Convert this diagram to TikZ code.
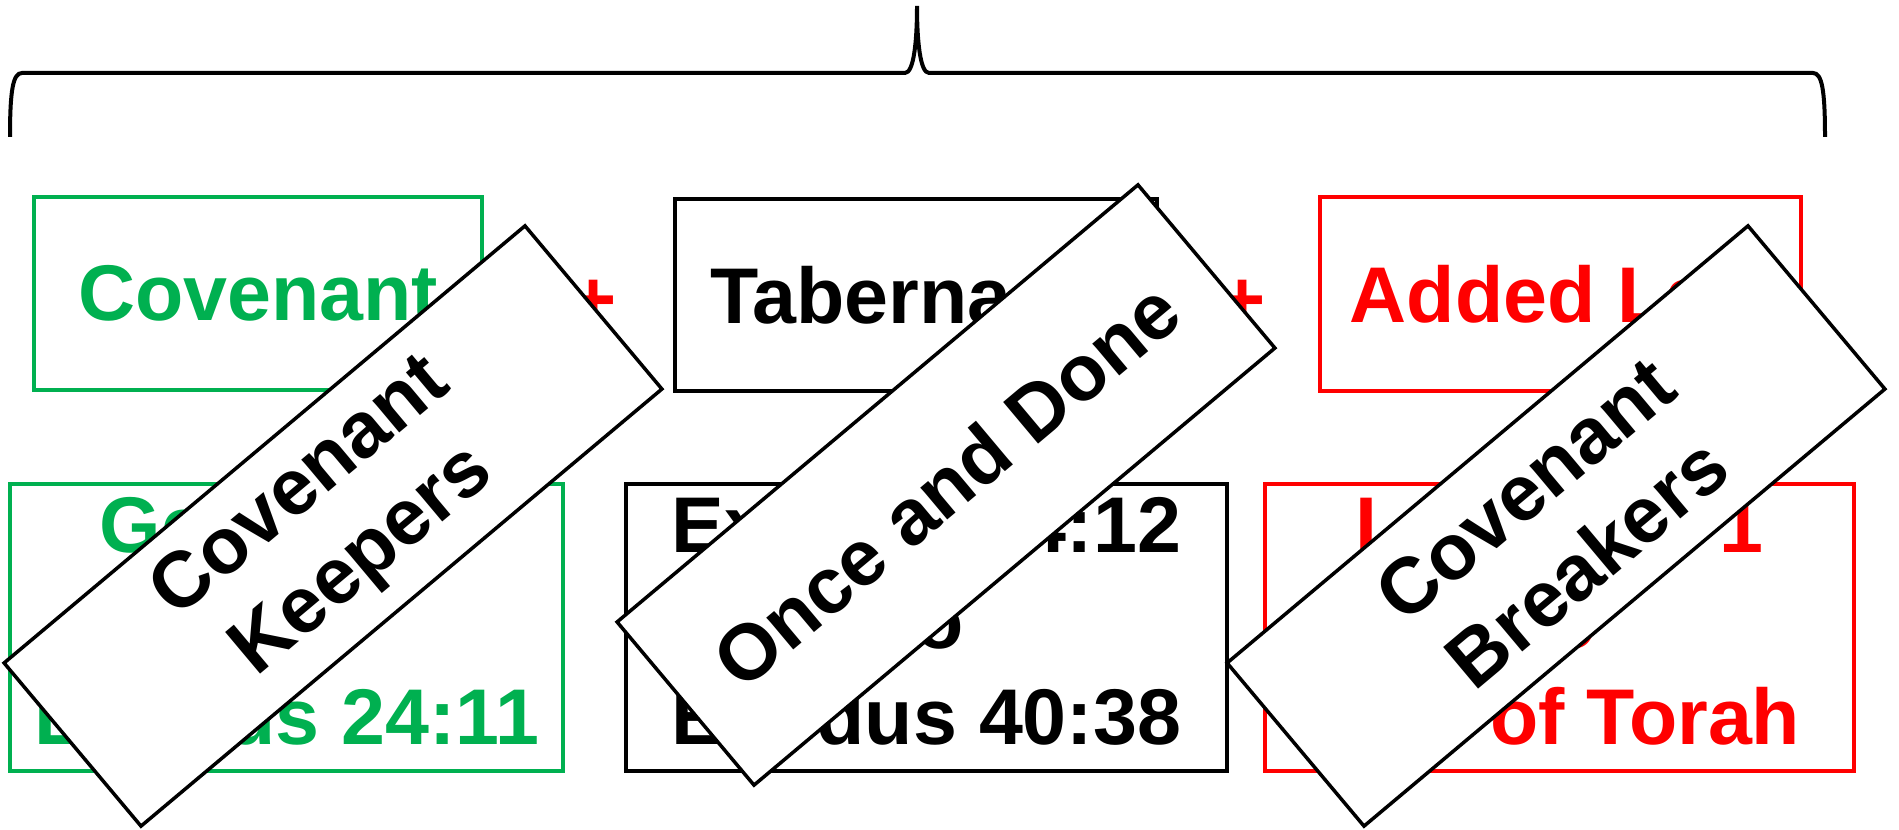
\documentclass[tikz,border=0pt]{standalone}
\usepackage{fontspec}
\setmainfont{Liberation Sans}
\definecolor{pgreen}{HTML}{00B050}
\definecolor{pred}{HTML}{FF0000}
\begin{document}
\begin{tikzpicture}[x=1pt,y=1pt,
  big/.style={font=\bfseries\fontsize{79}{96}\selectfont},
  box/.style={draw, line width=3.5pt, inner sep=0pt, big, align=center},
  gbox/.style={box, draw=pgreen, text=pgreen},
  kbox/.style={box, draw=black, text=black},
  rbox/.style={box, draw=pred, text=pred},
  txt/.style={big, align=center, inner sep=0pt},
  plus/.style={big, text=pred, anchor=base, inner sep=0pt},
  banner/.style={draw, line width=3.5pt, fill=white, rotate=40, minimum width=680, minimum height=213, inner sep=0pt, big, align=center},
]
\useasboundingbox (0,0) rectangle (1899,830);
% brace
\draw[line width=4pt] (10,693) .. controls (10,740) and (13,757) .. (22,757) -- (905,757)
  .. controls (914,757) and (917,790) .. (917,824)
  .. controls (917,790) and (920,757) .. (929,757) -- (1813,757)
  .. controls (1822,757) and (1825,740) .. (1825,693);
% top row
\node[gbox, minimum width=448, minimum height=193] (cov) at (258,536.5) {Covenant};
\node[kbox, minimum width=482, minimum height=192] (tab) at (916,535) {Tabernacle};
\node[rbox, minimum width=481, minimum height=194] (law) at (1560.5,536) {Added Law};
\node[plus] (p1) at (594,503) {+};
\node[plus] (p2) at (1243,503) {+};
% bottom row
\node[gbox, minimum width=553, minimum height=287] (gen) at (286.5,202.5) {};
\node[kbox, minimum width=601, minimum height=287] (exo) at (926.5,202.5) {};
\node[rbox, minimum width=589, minimum height=287] (lev) at (1559.5,202.5) {};
\node[txt, text=pgreen] (gen-t) at ([yshift=7.5]gen.center) {Genesis 1\\to\\Exodus 24:11};
\node[txt, text=black] (exo-t) at ([yshift=7.5]exo.center) {Exodus 24:12\\to\\Exodus 40:38};
\node[txt, text=pred] (lev-t) at ([yshift=7.5]lev.center) {Leviticus 1\\to\\End of Torah};
% banners
\node[banner] (keep) at (333,304) {Covenant\\Keepers};
\node[banner] (once) at (946,345) {Once and Done};
\node[banner] (brk) at (1556,304) {Covenant\\Breakers};
\end{tikzpicture}
\end{document}
